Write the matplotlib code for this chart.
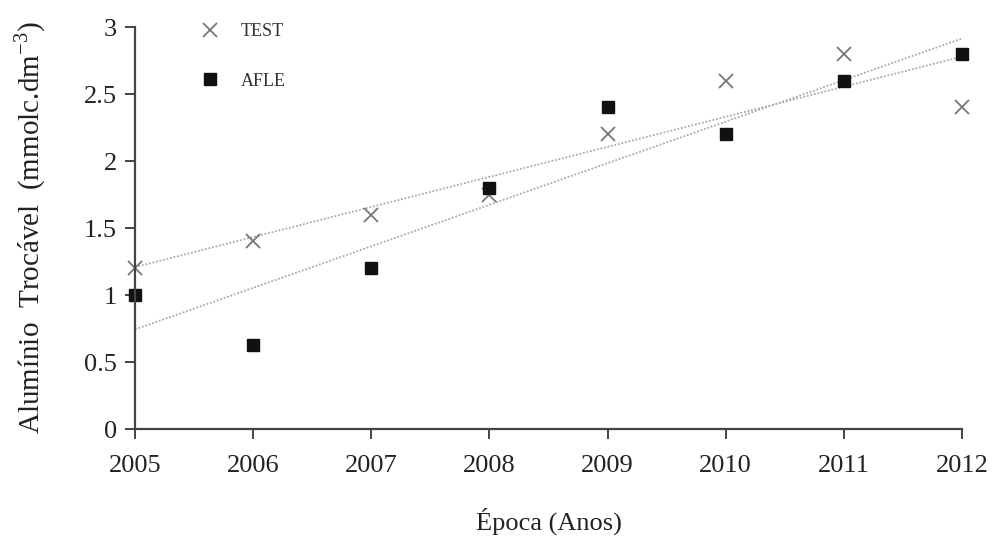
import numpy as np
import matplotlib.pyplot as plt
plt.rcParams["font.family"] = "Liberation Serif"
plt.rcParams["mathtext.fontset"] = "custom"
plt.rcParams["mathtext.rm"] = "Liberation Serif"

# Exchangeable aluminium per year, two treatments
anos = [2005, 2006, 2007, 2008, 2009, 2010, 2011, 2012]
test = [1.2, 1.4, 1.6, 1.75, 2.2, 2.6, 2.8, 2.4]
afle = [1.0, 0.63, 1.2, 1.8, 2.4, 2.2, 2.6, 2.8]

fig = plt.figure(figsize=(9.95, 5.41), dpi=100)
ax = fig.add_axes([0.1357, 0.207, 0.831, 0.743])

ax.plot(anos, test, linestyle='none', marker='x', color='#777777',
        markersize=10, markeredgewidth=1.3, label='TEST', clip_on=False)
ax.plot(anos, afle, linestyle='none', marker='s', color='#111111',
        markersize=9, label='AFLE', clip_on=False)

# linear trend lines
xs = np.array([anos[0], anos[-1]])
for serie in (test, afle):
    a, b = np.polyfit(anos, serie, 1)
    ax.plot(xs, a * xs + b, linestyle=(0, (1, 1)), color='#aaaaaa',
            linewidth=1.3, zorder=1, clip_on=False)

ax.set_xlim(2005, 2012)
ax.set_ylim(0, 3)
ax.set_xticks(anos)
ax.set_yticks([0, 0.5, 1, 1.5, 2, 2.5, 3])
ax.set_yticklabels(['0', '0.5', '1', '1.5', '2', '2.5', '3'])
for s in ('top', 'right'):
    ax.spines[s].set_visible(False)
for s in ('left', 'bottom'):
    ax.spines[s].set_color('#444444')
    ax.spines[s].set_linewidth(1.6)
ax.tick_params(axis='both', direction='out', length=7, width=1.4,
               color='#444444', labelsize=19, labelcolor='#222222')
ax.tick_params(axis='x', pad=12)
ax.tick_params(axis='y', pad=6)

ax.set_xlabel('Época (Anos)', fontsize=19, color='#222222', labelpad=22)
ax.set_ylabel(r'Alumínio  Trocável  (mmolc.dm$^{\mathrm{-3}}$)', fontsize=21,
              color='#222222', labelpad=26)

ax.legend(loc='upper left', bbox_to_anchor=(0.06, 1.05), frameon=False,
          fontsize=13, labelspacing=1.8, handletextpad=1.2,
          handlelength=1.0)
for t in ax.get_legend().get_texts():
    t.set_color('#333333')

fig.savefig('out.png', dpi=100)
